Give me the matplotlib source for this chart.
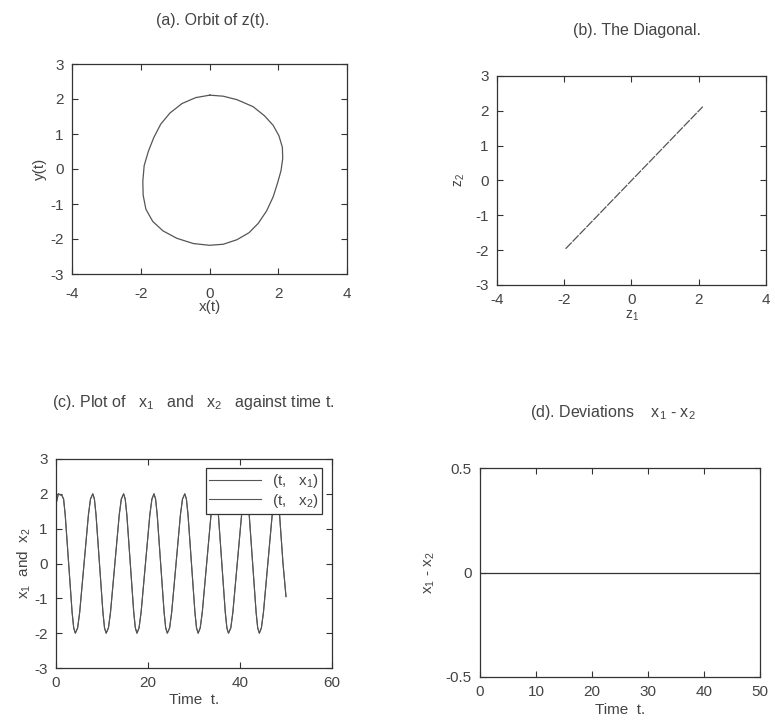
import numpy as np
import matplotlib
matplotlib.use("Agg")
import matplotlib.pyplot as plt

plt.rcParams['font.family'] = ['Liberation Sans', 'DejaVu Sans']
plt.rcParams['mathtext.default'] = 'regular'
plt.rcParams['axes.unicode_minus'] = False

INK = '#333333'
TXT = '#444444'
CURVE = '#555555'

# orbit of z(t) = (x(t), y(t)), one loop
orb_x = [0.01, 0.40, 0.80, 1.27, 1.60, 1.85, 2.02, 2.12, 2.13, 2.08, 1.98, 1.85,
         1.66, 1.42, 1.15, 0.80, 0.40, 0.00, -0.47, -0.95, -1.35, -1.65, -1.85,
         -1.93, -1.94, -1.90, -1.78, -1.62, -1.42, -1.15, -0.80, -0.40, 0.01]
orb_y = [2.11, 2.08, 1.98, 1.78, 1.52, 1.25, 0.95, 0.62, 0.30, -0.05, -0.40, -0.80,
         -1.20, -1.55, -1.82, -2.02, -2.15, -2.18, -2.13, -1.98, -1.77, -1.50, -1.15,
         -0.75, -0.35, 0.10, 0.50, 0.90, 1.28, 1.60, 1.87, 2.04, 2.11]

# synchronisation diagonal
z1 = [-1.96, -1.0, 0.0, 1.0, 2.12]
z2 = [-1.96, -1.0, 0.0, 1.0, 2.12]

# time series of x1 (x2 coincides with it)
t = [0.0, 0.5, 1.3, 1.65, 2.0, 2.75, 3.5, 3.85, 4.2, 4.7, 5.15, 6.1, 7.05, 7.5,
     8.0, 8.35, 8.7, 9.45, 10.2, 10.55, 10.9, 11.4, 11.85, 12.8, 13.75, 14.2,
     14.7, 15.05, 15.4, 16.15, 16.9, 17.25, 17.6, 18.05, 18.5, 19.45, 20.4, 20.85,
     21.3, 21.65, 22.0, 22.75, 23.5, 23.85, 24.2, 24.7, 25.15, 26.1, 27.05, 27.5,
     28.0, 28.35, 28.7, 29.45, 30.2, 30.55, 30.9, 31.35, 31.8, 32.75, 33.7, 34.15,
     34.6, 34.95, 35.3, 36.05, 36.8, 37.15, 37.5, 38.0, 38.45, 39.4, 40.35, 40.8,
     41.3, 41.65, 42.0, 42.75, 43.5, 43.85, 44.2, 44.65, 45.1, 46.05, 47.0, 47.45,
     47.9, 48.25, 48.6, 49.35, 50.0]
x1 = [1.7, 2.0, 1.95, 1.85, 1.4, 0.0, -1.4, -1.85, -2.0, -1.85, -1.4, 0.0, 1.4, 1.85,
      2.0, 1.85, 1.4, 0.0, -1.4, -1.85, -2.0, -1.85, -1.4, 0.0, 1.4, 1.85,
      2.0, 1.85, 1.4, 0.0, -1.4, -1.85, -2.0, -1.85, -1.4, 0.0, 1.4, 1.85,
      2.0, 1.85, 1.4, 0.0, -1.4, -1.85, -2.0, -1.85, -1.4, 0.0, 1.4, 1.85,
      2.0, 1.85, 1.4, 0.0, -1.4, -1.85, -2.0, -1.85, -1.4, 0.0, 1.4, 1.85,
      2.0, 1.85, 1.4, 0.0, -1.4, -1.85, -2.0, -1.85, -1.4, 0.0, 1.4, 1.85,
      2.0, 1.85, 1.4, 0.0, -1.4, -1.85, -2.0, -1.85, -1.4, 0.0, 1.4, 1.85,
      2.0, 1.85, 1.4, 0.0, -0.95]
x2 = list(x1)


def estilo(ax):
    for s in ax.spines.values():
        s.set_color(INK)
        s.set_linewidth(0.9)
    ax.tick_params(direction='in', top=True, right=True, length=4, width=0.8,
                   colors=INK, labelcolor=TXT, labelsize=11, pad=6)


fig = plt.figure(figsize=(7.75, 7.23), dpi=100)
W, H = 775.0, 723.0


def caja(l, r, top, bot):
    return fig.add_axes([l / W, 1 - bot / H, (r - l) / W, (bot - top) / H])


# (a) orbit
ax = caja(72, 347, 64, 274)
ax.plot(orb_x, orb_y, color=CURVE, lw=0.9)
ax.set_xlim(-4, 4)
ax.set_ylim(-3, 3)
ax.set_xticks([-4, -2, 0, 2, 4])
ax.set_yticks([-3, -2, -1, 0, 1, 2, 3])
ax.set_xlabel('x(t)', fontsize=11, color=TXT, labelpad=0)
ax.set_ylabel('y(t)', fontsize=11, color=TXT, labelpad=2)
estilo(ax)
ax.tick_params(axis='x', pad=9)
fig.text(213 / W, 1 - 20 / H, '(a). Orbit of z(t).', ha='center', va='center',
         fontsize=11.5, color=TXT)

# (b) diagonal
ax = caja(497, 766, 76, 285)
ax.plot(z1, z2, color=CURVE, lw=0.9, dashes=(7, 1))
ax.set_xlim(-4, 4)
ax.set_ylim(-3, 3)
ax.set_xticks([-4, -2, 0, 2, 4])
ax.set_yticks([-3, -2, -1, 0, 1, 2, 3])
ax.set_xlabel('$z_1$', fontsize=10, color=TXT, labelpad=1)
ax.set_ylabel('$z_2$', fontsize=10, color=TXT, labelpad=6)
estilo(ax)
fig.text(637 / W, 1 - 30 / H, '(b). The Diagonal.', ha='center', va='center',
         fontsize=11.5, color=TXT)

# (c) x1 and x2 against time
ax = caja(56, 332, 459, 668)
ax.plot(t, x1, color=CURVE, lw=0.8, label='(t,   $x_1$)')
ax.plot(t, x2, color=CURVE, lw=0.8, label='(t,   $x_2$)')
ax.set_xlim(0, 60)
ax.set_ylim(-3, 3)
ax.set_xticks([0, 20, 40, 60])
ax.set_yticks([-3, -2, -1, 0, 1, 2, 3])
ax.set_xlabel('Time  t.', fontsize=11, color=TXT, labelpad=2)
ax.set_ylabel('$x_1$  and  $x_2$', fontsize=11, color=TXT, labelpad=1)
estilo(ax)
leg = ax.legend(loc='upper right', bbox_to_anchor=(0.965, 0.955), fontsize=11,
                fancybox=False, framealpha=1, edgecolor=INK, handlelength=3.4,
                borderpad=0.25, labelspacing=0.1, handletextpad=0.7,
                borderaxespad=0)
leg.get_frame().set_linewidth(0.9)
for txt in leg.get_texts():
    txt.set_color(TXT)
fig.text(193 / W, 1 - 403 / H,
         '(c). Plot of   $x_1$   and   $x_2$   against time t.',
         ha='center', va='center', fontsize=11.5, color=TXT)

# (d) deviation x1 - x2
dev = np.array(x1) - np.array(x2)
ax = caja(480, 760, 468, 677)
ax.plot(t, dev, color=INK, lw=0.9)
ax.set_xlim(0, 50)
ax.set_ylim(-0.5, 0.5)
ax.set_xticks([0, 10, 20, 30, 40, 50])
ax.set_yticks([-0.5, 0, 0.5])
ax.set_yticklabels(['-0.5', '0', '0.5'])
ax.set_xlabel('Time  t.', fontsize=11, color=TXT, labelpad=3)
ax.set_ylabel('$x_1$ - $x_2$', fontsize=11, color=TXT, labelpad=6)
estilo(ax)
fig.text(613 / W, 1 - 413 / H, '(d). Deviations    $x_1$ - $x_2$',
         ha='center', va='center', fontsize=11.5, color=TXT)

fig.savefig('out.png', dpi=100)
